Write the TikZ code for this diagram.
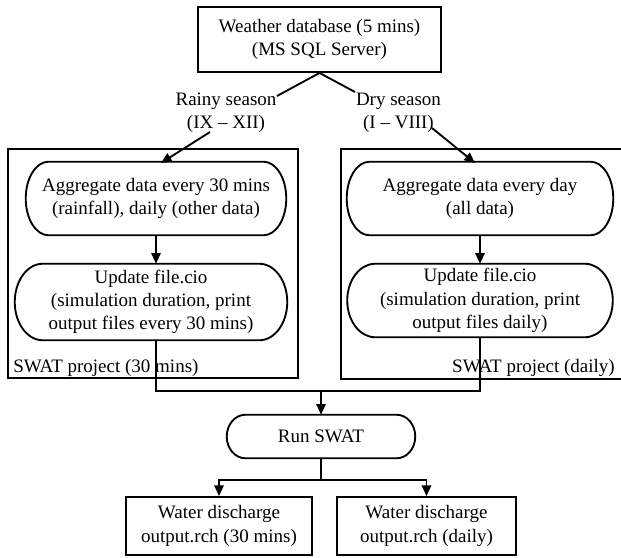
\documentclass[tikz,border=0pt]{standalone}
\usepackage{fontspec}
\setmainfont{Liberation Serif}
\usetikzlibrary{arrows.meta,calc}
\tikzset{
  line/.style={line width=1.4pt},
  arr/.style={line, -{Triangle[length=8pt,width=7pt]}},
  boxnode/.style={draw, line width=1.4pt, align=center, inner sep=0pt},
  stadnode/.style={align=center, inner sep=0pt},
  lab/.style={align=center, inner sep=0pt},
}
\newcommand\stadium[2]{%
  \draw[line] let \p1=(#1.north west), \p2=(#1.south east), \n1={(\y1-\y2)/2} in
  (\x1+#2,\y1) -- (\x2-#2,\y1)
  arc[start angle=90,end angle=-90,x radius=#2,y radius=\n1]
  -- (\x1+#2,\y2)
  arc[start angle=270,end angle=90,x radius=#2,y radius=\n1] -- cycle;}
\begin{document}
\begin{tikzpicture}[x=0.75pt,y=0.75pt,font=\fontsize{14.25}{17.5}\selectfont]
\useasboundingbox (0,0) rectangle (621,-557);
% outer project frames
\draw[line] (8,-149) rectangle (298,-378);
\draw[line] (341,-149) rectangle (640,-379);
\node[lab, anchor=base west] (lbl1) at (13,-372.5) {SWAT project (30 mins)};
\node[lab, anchor=base east] (lbl2) at (615,-372.5) {SWAT project (daily)};
% nodes
\node[boxnode, minimum width=182.25pt, minimum height=48.75pt] (top) at (319.5,-39.5)
  {Weather database (5 mins)\\(MS SQL Server)};
\node[lab] (rainy) at (226,-113) {Rainy season\\(IX – XII)};
\node[lab] (dry) at (398.5,-113) {Dry season\\(I – VIII)};
\node[stadnode, minimum width=195pt, minimum height=54.75pt] (agg1) at (156,-198.5)
  {Aggregate data every 30 mins\\(rainfall), daily (other data)};
\node[stadnode, minimum width=204pt, minimum height=57pt] (upd1) at (151,-302)
  {Update file.cio\\(simulation duration, print\\output files every 30 mins)};
\node[stadnode, minimum width=199.5pt, minimum height=54.75pt] (agg2) at (480,-198.5)
  {Aggregate data every day\\(all data)};
\node[stadnode, minimum width=198.75pt, minimum height=54.75pt] (upd2) at (480,-300.5)
  {Update file.cio\\(simulation duration, print\\output files daily)};
\node[stadnode, minimum width=141pt, minimum height=32.25pt] (run) at (321,-436.5) {Run SWAT};
\node[boxnode, minimum width=139.5pt, minimum height=43.5pt] (out1) at (219,-526)
  {Water discharge\\output.rch (30 mins)};
\node[boxnode, minimum width=134.25pt, minimum height=43.5pt] (out2) at (426.5,-526)
  {Water discharge\\output.rch (daily)};
\stadium{agg1}{17pt}
\stadium{upd1}{21pt}
\stadium{agg2}{17pt}
\stadium{upd2}{21pt}
\stadium{run}{14pt}
% connector points
\coordinate (r1) at (277,-96);
\coordinate (r2) at (210,-132);
\coordinate (a1in) at (161,-163);
\coordinate (d1) at (355,-92);
\coordinate (d2) at (432,-128);
\coordinate (a2in) at (475,-163);
\coordinate (j) at (321,-391);
% connectors
\draw[line] (top.south) -- (r1);
\draw[arr] (r2) -- (a1in);
\draw[line] (top.south) -- (d1);
\draw[arr] (d2) -- (a2in);
\draw[arr] (agg1.south) -- (agg1.south |- upd1.north);
\draw[arr] (agg2.south) -- (upd2.north);
\draw[line] (agg1.south |- upd1.south) -- (agg1.south |- j) -- (j);
\draw[line] (upd2.south) |- (j);
\draw[arr] (j) -- (run.north);
\draw[line] (run.south) -- ++(0,-22) coordinate (k);
\draw[arr] (k) -| (out1.north);
\draw[arr] (k) -| (out2.north);
\end{tikzpicture}
\end{document}
